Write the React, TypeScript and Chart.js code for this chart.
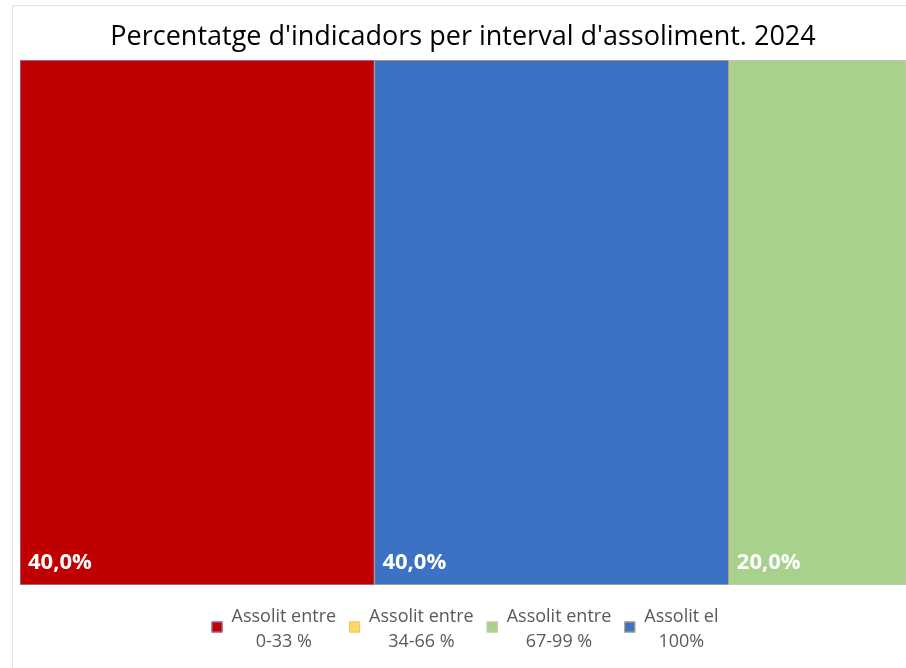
import React, { useEffect, useRef } from 'react';
import { Chart, registerables } from 'chart.js';

Chart.register(...registerables);

const titleText = "Percentatge d'indicadors per interval d'assoliment. 2024";
const categories = ['2024'];
const seriesNames = [
  'Assolit entre 0-33 %',
  'Assolit entre 34-66 %',
  'Assolit entre 67-99 %',
  'Assolit el 100%',
];
const legendLines = [
  ['Assolit entre', '0-33 %'],
  ['Assolit entre', '34-66 %'],
  ['Assolit entre', '67-99 %'],
  ['Assolit el', '100%'],
];
const seriesValues = [[40], [0], [20], [40]];
const seriesColors = ['#c00000', '#ffd966', '#a9d18e', '#3c72c4'];
const seriesBorders = ['#8a86c4', '#f4c060', '#c8c8b0', '#c8a860'];
// order in which the segments are stacked along the bar
const stackOrder = [0, 1, 3, 2];

const fmt = (v: number) => v.toFixed(1).replace('.', ',') + '%';

const labelPlugin = {
  id: 'segLabels',
  afterDatasetsDraw(chart: any) {
    const ctx = chart.ctx;
    ctx.save();
    ctx.font = 'bold 22px "Open Sans"';
    ctx.fillStyle = '#ffffff';
    ctx.textAlign = 'left';
    ctx.textBaseline = 'middle';
    chart.data.datasets.forEach((ds: any, i: number) => {
      const meta = chart.getDatasetMeta(i);
      meta.data.forEach((bar: any, j: number) => {
        const v = ds.data[j];
        if (!v) return;
        const p = bar.getProps(['x', 'base'], true);
        const left = Math.min(p.x, p.base);
        ctx.fillText(fmt(v), left + 8, chart.chartArea.bottom - 22);
      });
    });
    ctx.restore();
  },
};

const legendPlugin = {
  id: 'multiLegend',
  afterDraw(chart: any) {
    const ctx = chart.ctx;
    ctx.save();
    ctx.font = '18px "Open Sans"';
    const box = 11;
    const gapBox = 9;
    const gapItem = 13;
    const widths = legendLines.map((lines) =>
      Math.max(...lines.map((l) => ctx.measureText(l).width))
    );
    const total =
      widths.reduce((a, w) => a + box + gapBox + w, 0) + gapItem * (widths.length - 1);
    const area = chart.chartArea;
    let x = (area.left + area.right) / 2 - total / 2 + 2;
    const line1 = area.bottom + 32;
    const line2 = area.bottom + 57;
    const mid = area.bottom + 42;
    legendLines.forEach((lines, i) => {
      ctx.fillStyle = seriesColors[i];
      ctx.fillRect(x, mid - box / 2, box, box);
      ctx.strokeStyle = seriesBorders[i];
      ctx.lineWidth = 1;
      ctx.strokeRect(x + 0.5, mid - box / 2 + 0.5, box - 1, box - 1);
      const tx = x + box + gapBox;
      const cx = tx + widths[i] / 2;
      ctx.fillStyle = '#595959';
      ctx.textAlign = 'center';
      ctx.textBaseline = 'middle';
      ctx.fillText(lines[0], cx, line1);
      ctx.fillText(lines[1], cx, line2);
      x = tx + widths[i] + gapItem;
    });
    ctx.restore();
  },
};

export default function App() {
  const ref = useRef<HTMLCanvasElement>(null);
  useEffect(() => {
    if (!ref.current) return;
    const datasets = stackOrder.map((i) => ({
      label: seriesNames[i],
      data: seriesValues[i],
      backgroundColor: seriesColors[i],
      borderColor: seriesBorders[i],
      borderWidth: 1,
      borderSkipped: false,
      barPercentage: 1,
      categoryPercentage: 1,
    }));
    const chart = new Chart(ref.current, {
      type: 'bar',
      data: { labels: categories, datasets },
      options: {
        indexAxis: 'y',
        animation: false,
        responsive: false,
        layout: { padding: { left: 20, right: 0, top: 0, bottom: 83 } },
        scales: {
          x: { stacked: true, min: 0, max: 100, display: false },
          y: { stacked: true, display: false },
        },
        plugins: {
          legend: { display: false },
          tooltip: { enabled: false },
          title: {
            display: true,
            text: titleText,
            color: '#000000',
            font: { family: '"Open Sans"', size: 27, weight: 'normal' },
            padding: { top: 21.4, bottom: 6.2 },
          },
        },
      },
      plugins: [labelPlugin, legendPlugin],
    });
    return () => chart.destroy();
  }, []);
  return (
    <div style={{ position: 'fixed', left: 0, top: 0, width: 906, height: 668, background: '#fff' }}>
      <div
        style={{
          position: 'absolute',
          left: 12,
          top: 5,
          right: -2,
          bottom: -2,
          borderLeft: '1px solid #e3e3e3',
          borderTop: '1px solid #e3e3e3',
        }}
      />
      <canvas ref={ref} width={906} height={668} style={{ position: 'absolute', left: 0, top: 0 }} />
    </div>
  );
}
